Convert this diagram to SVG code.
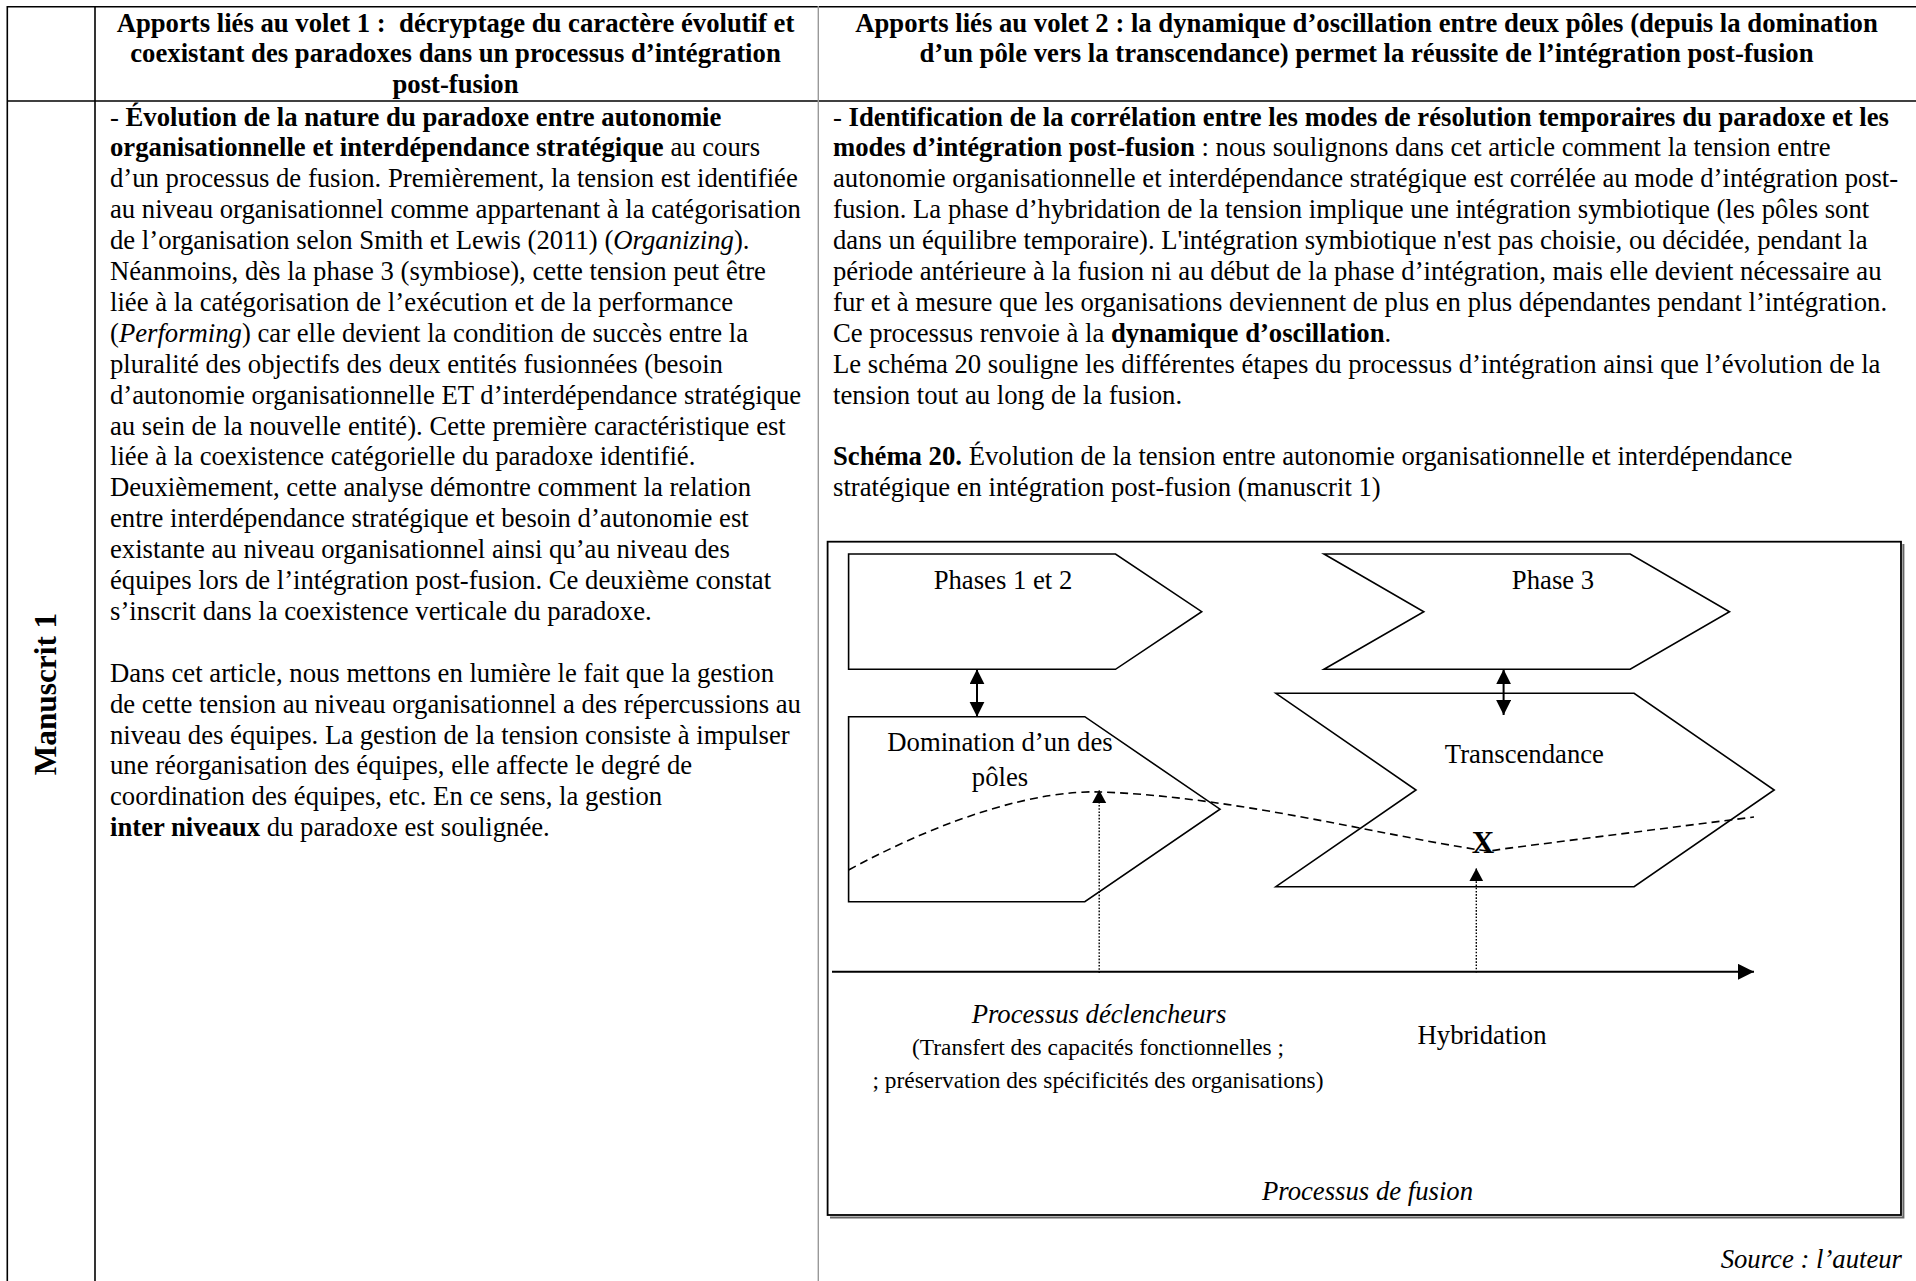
<svg xmlns="http://www.w3.org/2000/svg" width="1916" height="1281" viewBox="0 0 1916 1281">
<defs>
<style>
text{font-family:"Liberation Serif","Times New Roman",serif;fill:#000;}
.t{font-size:26.7px;}
.hd{font-size:26.7px;font-weight:bold;text-anchor:middle;white-space:pre;}
.b{font-weight:bold;}
.i{font-style:italic;}
.c{text-anchor:middle;}
.sm{font-size:23.4px;}
.tbl{stroke:#000;stroke-width:1.6;fill:none;}
.shape{stroke:#000;stroke-width:1.6;fill:none;stroke-linejoin:miter;}
.dbl{stroke:#000;stroke-width:2;fill:none;}
.dot{stroke:#000;stroke-width:1.4;stroke-dasharray:1.6 1.6;fill:none;}
.dash{stroke:#000;stroke-width:1.6;stroke-dasharray:8 5;fill:none;}
</style>
<marker id="ah" markerUnits="userSpaceOnUse" markerWidth="16" markerHeight="16" refX="15" refY="7.5" orient="auto-start-reverse" viewBox="0 0 16 16">
<path d="M0,0 L15,7.5 L0,15 z" fill="#000"/>
</marker>
<marker id="ahs" markerUnits="userSpaceOnUse" markerWidth="16" markerHeight="16" refX="13" refY="7" orient="auto" viewBox="0 0 16 16">
<path d="M0,0 L13,7 L0,14 z" fill="#000"/>
</marker>
<marker id="ahx" markerUnits="userSpaceOnUse" markerWidth="18" markerHeight="18" refX="16" refY="8" orient="auto" viewBox="0 0 18 18">
<path d="M0,0 L16,8 L0,16 z" fill="#000"/>
</marker>
</defs>
<rect width="1916" height="1281" fill="#fff"/>

<g id="table">
<line class="tbl" x1="7" y1="6.7" x2="1916" y2="6.7"/>
<line class="tbl" x1="7" y1="101" x2="1916" y2="101" stroke-width="2"/>
<line class="tbl" x1="7.3" y1="6" x2="7.3" y2="1281"/>
<line class="tbl" x1="95" y1="6" x2="95" y2="1281"/>
<line x1="818.3" y1="6" x2="818.3" y2="1281" stroke="#999" stroke-width="1.4"/>
</g>

<g id="header-left">
<text class="hd" x="455.5" y="31.5">Apports liés au volet 1 :  décryptage du caractère évolutif et</text>
<text class="hd" x="455.5" y="62.4">coexistant des paradoxes dans un processus d’intégration</text>
<text class="hd" x="455.5" y="93.2">post-fusion</text>
</g>
<g id="header-right">
<text class="hd" x="1366.5" y="31.5">Apports liés au volet 2 : la dynamique d’oscillation entre deux pôles (depuis la domination</text>
<text class="hd" x="1366.5" y="62.4">d’un pôle vers la transcendance) permet la réussite de l’intégration post-fusion</text>
</g>

<g id="row-label">
<text class="b" font-size="31.3" text-anchor="middle" x="55.5" y="694" transform="rotate(-90 55.5 694)">Manuscrit 1</text>
</g>

<g id="body-left" class="t">
<text class="t" x="110" y="125.5">- <tspan class="b">Évolution de la nature du paradoxe entre autonomie</tspan></text>
<text class="t" x="110" y="156.4"><tspan class="b">organisationnelle et interdépendance stratégique</tspan> au cours</text>
<text class="t" x="110" y="187.3">d’un processus de fusion. Premièrement, la tension est identifiée</text>
<text class="t" x="110" y="218.2">au niveau organisationnel comme appartenant à la catégorisation</text>
<text class="t" x="110" y="249.1">de l’organisation selon Smith et Lewis (2011) (<tspan class="i">Organizing</tspan>).</text>
<text class="t" x="110" y="280">Néanmoins, dès la phase 3 (symbiose), cette tension peut être</text>
<text class="t" x="110" y="310.9">liée à la catégorisation de l’exécution et de la performance</text>
<text class="t" x="110" y="341.8">(<tspan class="i">Performing</tspan>) car elle devient la condition de succès entre la</text>
<text class="t" x="110" y="372.7">pluralité des objectifs des deux entités fusionnées (besoin</text>
<text class="t" x="110" y="403.6">d’autonomie organisationnelle ET d’interdépendance stratégique</text>
<text class="t" x="110" y="434.5">au sein de la nouvelle entité). Cette première caractéristique est</text>
<text class="t" x="110" y="465.4">liée à la coexistence catégorielle du paradoxe identifié.</text>
<text class="t" x="110" y="496.3">Deuxièmement, cette analyse démontre comment la relation</text>
<text class="t" x="110" y="527.2">entre interdépendance stratégique et besoin d’autonomie est</text>
<text class="t" x="110" y="558.1">existante au niveau organisationnel ainsi qu’au niveau des</text>
<text class="t" x="110" y="589">équipes lors de l’intégration post-fusion. Ce deuxième constat</text>
<text class="t" x="110" y="619.9">s’inscrit dans la coexistence verticale du paradoxe.</text>
<text class="t" x="110" y="681.7">Dans cet article, nous mettons en lumière le fait que la gestion</text>
<text class="t" x="110" y="712.6">de cette tension au niveau organisationnel a des répercussions au</text>
<text class="t" x="110" y="743.5">niveau des équipes. La gestion de la tension consiste à impulser</text>
<text class="t" x="110" y="774.4">une réorganisation des équipes, elle affecte le degré de</text>
<text class="t" x="110" y="805.3">coordination des équipes, etc. En ce sens, la gestion</text>
<text class="t" x="110" y="836.2"><tspan class="b">inter niveaux</tspan> du paradoxe est soulignée.</text>
</g>

<g id="body-right">
<text class="t" x="833" y="125.5">- <tspan class="b">Identification de la corrélation entre les modes de résolution temporaires du paradoxe et les</tspan></text>
<text class="t" x="833" y="156.4"><tspan class="b">modes d’intégration post-fusion</tspan> : nous soulignons dans cet article comment la tension entre</text>
<text class="t" x="833" y="187.3">autonomie organisationnelle et interdépendance stratégique est corrélée au mode d’intégration post-</text>
<text class="t" x="833" y="218.2">fusion. La phase d’hybridation de la tension implique une intégration symbiotique (les pôles sont</text>
<text class="t" x="833" y="249.1">dans un équilibre temporaire). L'intégration symbiotique n'est pas choisie, ou décidée, pendant la</text>
<text class="t" x="833" y="280">période antérieure à la fusion ni au début de la phase d’intégration, mais elle devient nécessaire au</text>
<text class="t" x="833" y="310.9">fur et à mesure que les organisations deviennent de plus en plus dépendantes pendant l’intégration.</text>
<text class="t" x="833" y="341.8">Ce processus renvoie à la <tspan class="b">dynamique d’oscillation</tspan>.</text>
<text class="t" x="833" y="372.7">Le schéma 20 souligne les différentes étapes du processus d’intégration ainsi que l’évolution de la</text>
<text class="t" x="833" y="403.6">tension tout au long de la fusion.</text>
<text class="t" x="833" y="465.4"><tspan class="b">Schéma 20.</tspan> Évolution de la tension entre autonomie organisationnelle et interdépendance</text>
<text class="t" x="833" y="496.3">stratégique en intégration post-fusion (manuscrit 1)</text>
</g>

<g id="diagram-frame">
<polyline points="830,1217.6 1903.4,1217.6 1903.4,544" fill="none" stroke="#666" stroke-width="2"/>
<rect x="827.6" y="541.7" width="1073.4" height="673.3" fill="none" stroke="#000" stroke-width="1.8"/>
</g>

<g id="node-phases12">
<polygon class="shape" points="848.6,554 1115.5,554 1201.7,611.7 1115.5,669.3 848.6,669.3"/>
<text class="t c" x="1003" y="589">Phases 1 et 2</text>
</g>
<g id="node-phase3">
<polygon class="shape" points="1324,554 1630.2,554 1729.5,611.7 1630.2,669.3 1324,669.3 1423.8,611.7"/>
<text class="t c" x="1553" y="589">Phase 3</text>
</g>
<g id="node-domination">
<polygon class="shape" points="848.6,716.7 1084.8,716.7 1220,809.2 1084.8,901.7 848.6,901.7"/>
<text class="t c" x="1000" y="751">Domination d’un des</text>
<text class="t c" x="1000" y="786">pôles</text>
</g>
<g id="node-transcendance">
<polygon class="shape" points="1275.9,693.3 1634.1,693.3 1774.2,790 1634.1,886.7 1275.9,886.7 1416,790"/>
<text class="t c" x="1524.4" y="763">Transcendance</text>
</g>

<g id="connectors">
<line class="dbl" x1="977" y1="669.3" x2="977" y2="716.7" marker-start="url(#ah)" marker-end="url(#ah)"/>
<line class="dbl" x1="1503.6" y1="669.3" x2="1503.6" y2="715" marker-start="url(#ah)" marker-end="url(#ah)"/>
<path class="dash" d="M848.6,870 C950,815 1040,790 1100,792 C1230,796 1380,835 1480,850 C1490,851.5 1495,850.5 1502,849 L1754,817"/>
<line class="dot" x1="1099.2" y1="973" x2="1099.2" y2="790" marker-end="url(#ahs)"/>
<line class="dot" x1="1476.3" y1="972.5" x2="1476.3" y2="868.3" marker-end="url(#ahs)"/>
<line x1="832" y1="971.8" x2="1754" y2="971.8" stroke="#000" stroke-width="2" marker-end="url(#ahx)"/>
</g>

<g id="label-x">
<text class="b c" font-size="31" x="1483" y="852.7">X</text>
</g>
<g id="label-declencheurs">
<text class="t i c" x="1099" y="1023">Processus déclencheurs</text>
<text class="sm c" x="1098" y="1055">(Transfert des capacités fonctionnelles ;</text>
<text class="sm c" x="1098" y="1088">; préservation des spécificités des organisations)</text>
</g>
<g id="label-hybridation">
<text class="t c" x="1482" y="1044">Hybridation</text>
</g>
<g id="label-fusion">
<text class="t i c" x="1367.5" y="1200">Processus de fusion</text>
</g>
<g id="label-source">
<text class="t i" text-anchor="end" x="1902" y="1268">Source : l’auteur</text>
</g>
</svg>
